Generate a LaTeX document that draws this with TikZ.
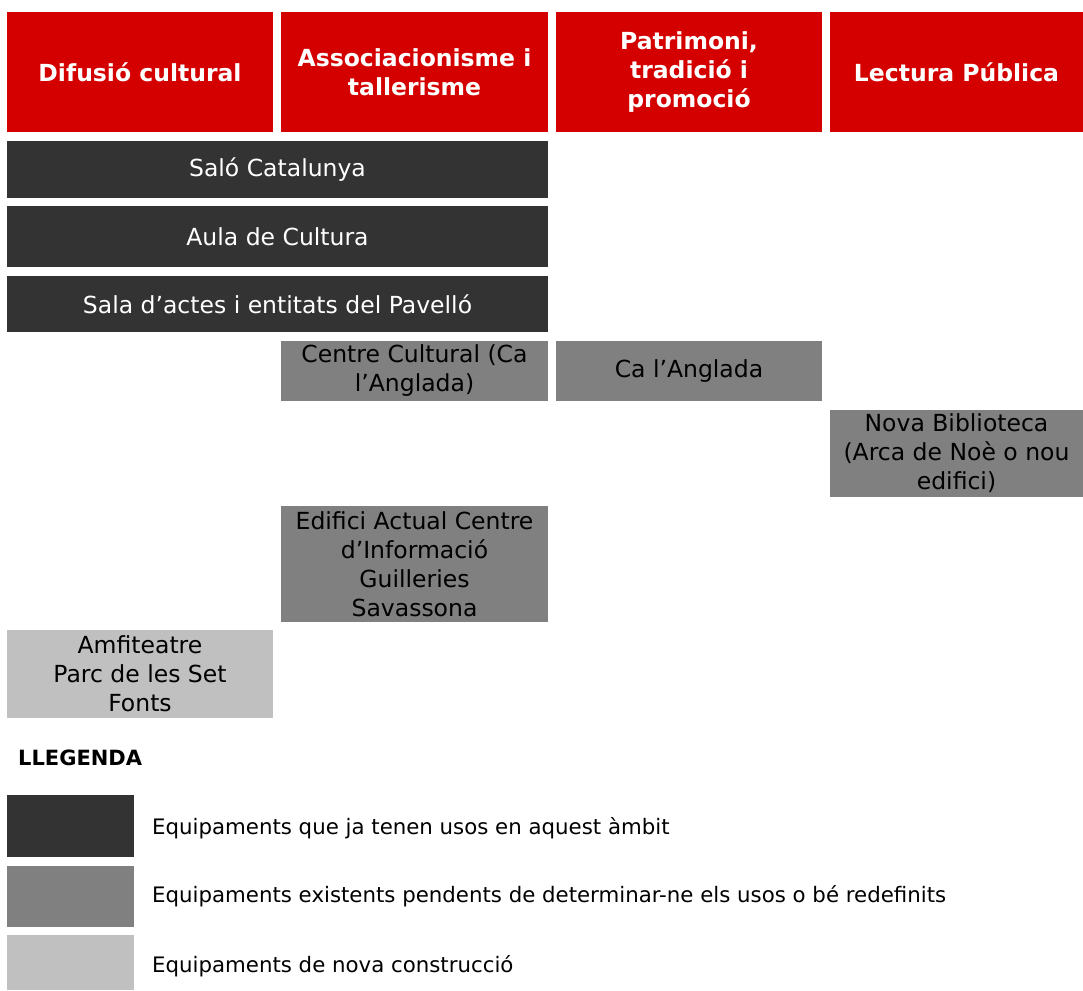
\documentclass[tikz,border=0pt]{standalone}
\usepackage{fontspec}
\setmainfont{DejaVu Sans}
\usepackage{xcolor}
\definecolor{headred}{HTML}{D40000}
\definecolor{usgray}{HTML}{333333}
\definecolor{pendgray}{HTML}{808080}
\definecolor{nougray}{HTML}{C0C0C0}
\begin{document}
\begin{tikzpicture}[x=1pt,y=-1pt,
	cell/.style={rectangle, inner sep=0pt, align=center, font=\fontsize{23.5}{29}\selectfont},
	head/.style={cell, fill=headred, text=white, font=\bfseries\fontsize{23.5}{29}\selectfont, minimum height=120pt},
	usbox/.style={cell, fill=usgray, text=white},
	pendbox/.style={cell, fill=pendgray, text=black},
	noubox/.style={cell, fill=nougray, text=black},
	keytxt/.style={anchor=west, inner sep=0pt, font=\fontsize{21.3}{26}\selectfont}]
\useasboundingbox(0,0)rectangle(1083,990);
\node[head, minimum width=266pt](hdA)at(140,72){Difusió cultural};
\node[head, minimum width=267pt](hdB)at(414.5,72){Associacionisme i\\tallerisme};
\node[head, minimum width=266pt](hdC)at(689,72){Patrimoni,\\tradició i\\promoció};
\node[head, minimum width=253pt](hdD)at(956.5,72){Lectura Pública};
\node[usbox, minimum width=541pt, minimum height=57pt](salo)at(277.5,169.5){Saló Catalunya};
\node[usbox, minimum width=541pt, minimum height=61pt](aula)at(277.5,236.5){Aula de Cultura};
\node[usbox, minimum width=541pt, minimum height=56pt](sala)at(277.5,304){Sala d’actes i entitats del Pavelló};
\node[pendbox, minimum width=267pt, minimum height=60pt](centre)at(414.5,371){Centre Cultural (Ca\\l’Anglada)};
\node[pendbox, minimum width=266pt, minimum height=60pt](angl)at(689,371){Ca l’Anglada};
\node[pendbox, minimum width=253pt, minimum height=87pt](nova)at(956.5,453.5){Nova Biblioteca\\(Arca de Noè o nou\\edifici)};
\node[pendbox, minimum width=267pt, minimum height=116pt](edif)at(414.5,564){Edifici Actual Centre\\d’Informació\\Guilleries\\Savassona};
\node[noubox, minimum width=266pt, minimum height=88pt](amfi)at(140,674){Amfiteatre\\Parc de les Set\\Fonts};
\node[keytxt, font=\bfseries\fontsize{21}{24}\selectfont](lleg)at(18,758){LLEGENDA};
\node[usbox, minimum width=127pt, minimum height=62pt](keyA)at(70.5,826){};
\node[pendbox, minimum width=127pt, minimum height=61pt](keyB)at(70.5,896.5){};
\node[noubox, minimum width=127pt, minimum height=55pt](keyC)at(70.5,962.5){};
\node[keytxt](txtA)at(152,828){Equipaments que ja tenen usos en aquest àmbit};
\node[keytxt](txtB)at(152,896){Equipaments existents pendents de determinar-ne els usos o bé redefinits};
\node[keytxt](txtC)at(152,966){Equipaments de nova construcció};
\end{tikzpicture}
\end{document}
